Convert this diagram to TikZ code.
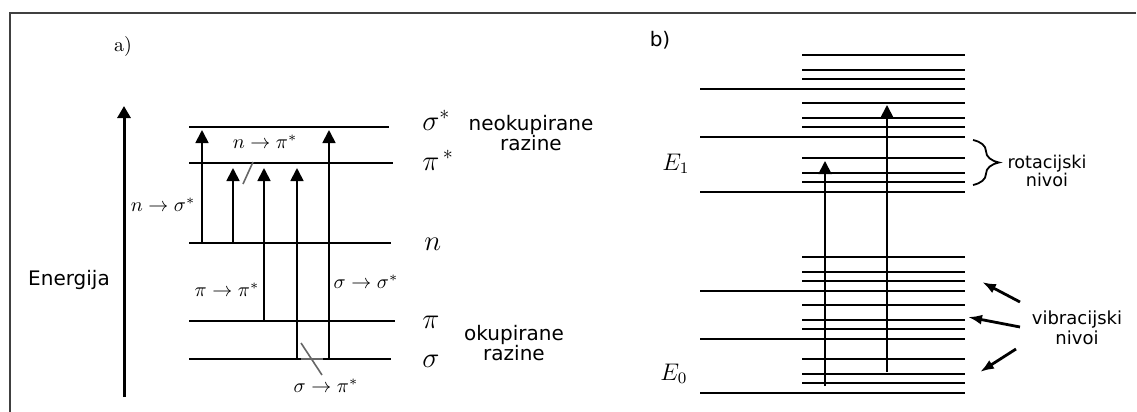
\documentclass[tikz,border=0pt]{standalone}
\usepackage{fontspec}
\setsansfont{DejaVu Sans}
\usetikzlibrary{arrows.meta,decorations.pathreplacing}

\begin{document}
\begin{tikzpicture}[x=0.5pt,y=-0.5pt,
	level/.style={line width=0.9pt},
	transition/.style={line width=0.9pt,-{Triangle[width=6.5pt,length=6.5pt]}},
	slash/.style={black!60,line width=0.8pt},
	vib arrow/.style={line width=1.4pt,-{Latex[width=5pt,length=7pt]}},
	level label/.style={font=\fontsize{14}{14}\selectfont,inner sep=0pt,anchor=base west},
	trans label/.style={font=\fontsize{10}{10}\selectfont,inner sep=0pt},
	word text/.style={font=\sffamily\fontsize{10}{10}\selectfont,align=center,inner sep=0pt}]
	\useasboundingbox (0,0) rectangle (1137,412);

	% Frame, top and left edges only.
	\draw [black!75,line width=1pt] (1136,13) -- (9.6,13) -- (9.6,412);

	% Panel a): electronic levels.
	\node (a) at (123,47) [font=\fontsize{10}{10}\selectfont] {a)};
	\draw [line width=1.5pt,-{Triangle[width=6.5pt,length=6pt]}] (124,397) -- (124,106);
	\node (energija) at (69,280) [word text] {Energija};

	\pgfmathsetmacro\Ysigs{127};
	\pgfmathsetmacro\Ypis{163};
	\pgfmathsetmacro\Yn{243};
	\pgfmathsetmacro\Ypi{321};
	\pgfmathsetmacro\Ysig{359};
	\draw [level] (189,\Ysigs) -- (389,\Ysigs);
	\draw [level] (189,\Ypis) -- (393,\Ypis);
	\draw [level] (189,\Yn) -- (391,\Yn);
	\draw [level] (189,\Ypi) -- (395,\Ypi);
	\draw [level] (189,\Ysig) -- (391,\Ysig);

	\node (sigs) at (422,130) [level label] {$\sigma^*$};
	\node (pis) at (422,170) [level label] {$\pi^{\,*}$};
	\node (n) at (424,250) [level label] {$n$};
	\node (pi) at (422,328) [level label] {$\pi$};
	\node (sig) at (422,367) [level label] {$\sigma$};

	\node (neokup) at (531,133) [word text] {neokupirane\\razine};
	\node (okup) at (514,343) [word text] {okupirane\\razine};

	% Transitions.
	\draw [transition] (202,\Yn) -- (202,130);
	\draw [transition] (233,\Yn) -- (233,168);
	\draw [transition] (264,\Ypi) -- (264,168);
	\draw [transition] (297,\Ysig) -- (297,168);
	\draw [transition] (329,\Ysig) -- (329,130);

	\draw [slash] (243,184) -- (253,162);
	\draw [slash] (301,343) -- (322,375);
	\draw [slash,line width=1.3pt] (301,\Ysig) -- (323,\Ysig);

	\node (nsig) at (163,205) [trans label] {$n\rightarrow\sigma^*$};
	\node (npi) at (265,142) [trans label] {$n\rightarrow\pi^*$};
	\node (pipi) at (227,290) [trans label] {$\pi\rightarrow\pi^*$};
	\node (sigsig) at (366,282) [trans label] {$\sigma\rightarrow\sigma^*$};
	\node (sigpi) at (326,386) [trans label] {$\sigma\rightarrow\pi^*$};

	% Panel b): vibrational and rotational levels.
	\node (b) at (660,40) [word text] {b)};
	\foreach \y in {89,137,192,291,339,393} {
		\draw [level] (700,\y) -- (965,\y);
		\foreach \d in {10,19,34}
			\draw [level] (802,\y-\d) -- (965,\y-\d);
	}
	\draw [transition] (825,386) -- (825,161);
	\draw [transition] (887,372) -- (887,105);

	\node (E1) at (662,170) [font=\fontsize{12}{12}\selectfont,inner sep=0pt,anchor=base west] {$E_1$};
	\node (E0) at (660,380) [font=\fontsize{12}{12}\selectfont,inner sep=0pt,anchor=base west] {$E_0$};

	\draw [line width=0.9pt,decorate,decoration={brace,amplitude=13pt}] (973,140) -- (973,185);
	\node (rot) at (1047,171) [word text,font=\sffamily\fontsize{8.8}{8.6}\selectfont] {rotacijski\\nivoi};

	\node (vib) at (1077,328) [word text,font=\sffamily\fontsize{9}{10}\selectfont] {vibracijski\\nivoi};
	\draw [vib arrow] (1020,302) -- (982,282);
	\draw [vib arrow] (1020,327) -- (968,317);
	\draw [vib arrow] (1016,349) -- (980,372);
\end{tikzpicture}
\end{document}
